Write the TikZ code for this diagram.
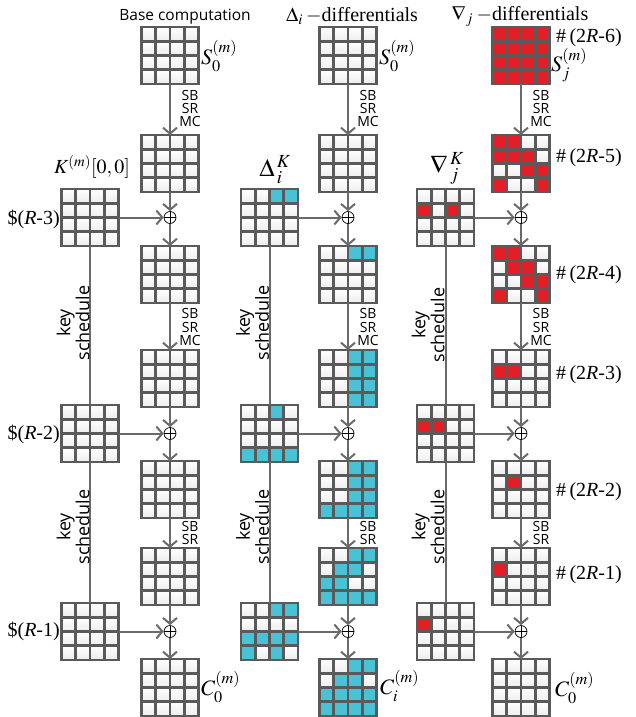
\documentclass[tikz,border=0pt]{standalone}
\usepackage{mathptmx}
\usepackage[no-math]{fontspec}
\setmainfont{Liberation Serif}
\newfontfamily\osans{Open Sans}
\usetikzlibrary{arrows.meta,calc}
\definecolor{gl}{HTML}{5A5A5A}
\definecolor{cn}{HTML}{6A6A6A}
\definecolor{cy}{HTML}{4AC2D6}
\definecolor{rd}{HTML}{E41E26}
\tikzset{
 gridnode/.style={minimum size=57pt, inner sep=0pt, outer sep=0pt},
 conn/.style={draw=cn, line width=2pt, -{Straight Barb[length=6pt,width=14pt,line width=2pt]}},
 plainline/.style={draw=cn, line width=2pt},
 xor/.style={circle, draw=black, fill=white, line width=0.7pt, minimum size=12pt, inner sep=0pt,
   path picture={\draw[black,line width=0.7pt] (path picture bounding box.north) -- (path picture bounding box.south) (path picture bounding box.west) -- (path picture bounding box.east);}},
 oplab/.style={font=\osans\fontsize{14}{13.3}\selectfont, align=center, inner sep=0pt},
 kslab/.style={font=\osans\fontsize{18}{17}\selectfont, align=center, rotate=90, inner sep=0pt},
 mlab/.style={font=\fontsize{20}{22}\selectfont, inner sep=0pt},
 slab/.style={font=\fontsize{22}{24}\selectfont, inner sep=0pt},
 dlab/.style={font=\fontsize{25}{27}\selectfont, inner sep=0pt},
 ttl/.style={font=\osans\fontsize{15.5}{17}\selectfont, inner sep=0pt},
}
\newcommand\grid[3]{%
 \node[gridnode] (#1) at (#2,#3+28.5) {};
 \foreach \r in {0,...,3}{\foreach \c in {0,...,3}{%
   \shade[top color=white,bottom color=gray!14] ($(#1.north west)+(\c*14.25,\r*14.25)$) rectangle +(14.25,14.25);}}
}
\newcommand\cells[3]{%
 \foreach \r/\c in {#3}{\fill[#2] ($(#1.north west)+(\c*14.25,\r*14.25)$) rectangle +(14.25,14.25);}
}
\newcommand\glines[1]{%
 \foreach \i in {1,2,3}{%
   \draw[gl,line width=2.6pt] ($(#1.north west)+(\i*14.25,0)$) -- +(0,57);
   \draw[gl,line width=2.6pt] ($(#1.north west)+(0,\i*14.25)$) -- +(57,0);}
 \draw[gl,line width=2.6pt] (#1.north west) rectangle (#1.south east);
}
\begin{document}
\begin{tikzpicture}[x=1pt,y=-1pt]
\useasboundingbox (0,0) rectangle (635,717);
% ---------- column 1
\grid{a0}{170}{27}\glines{a0}
\grid{a1}{170}{135}\glines{a1}
\grid{a2}{170}{246}\glines{a2}
\grid{a3}{170}{350}\glines{a3}
\grid{a4}{170}{461}\glines{a4}
\grid{a5}{170}{548}\glines{a5}
\grid{a6}{170}{659}\glines{a6}
\grid{ak1}{90}{189}\glines{ak1}
\grid{ak2}{90}{405}\glines{ak2}
\grid{ak3}{90}{603}\glines{ak3}
\node[xor] (ax1) at (170,217.5) {};
\node[xor] (ax2) at (170,433.5) {};
\node[xor] (ax3) at (170,631.5) {};
% ---------- column 2
\grid{b0}{348}{27}\glines{b0}
\grid{b1}{348}{135}\glines{b1}
\grid{b2}{348}{246}\cells{b2}{cy}{0/2,0/3}\glines{b2}
\grid{b3}{348}{350}\cells{b3}{cy}{0/2,0/3,1/2,1/3,2/2,2/3,3/2,3/3}\glines{b3}
\grid{b4}{348}{461}\cells{b4}{cy}{0/2,0/3,1/2,1/3,2/2,2/3,3/0,3/1,3/2,3/3}\glines{b4}
\grid{b5}{348}{548}\cells{b5}{cy}{0/2,0/3,1/1,1/2,2/0,2/1,3/0,3/1,3/2,3/3}\glines{b5}
\grid{b6}{348}{659}\cells{b6}{cy}{0/2,0/3,1/1,1/2,2/0,2/1,2/2,2/3,3/0,3/1,3/2,3/3}\glines{b6}
\grid{bk1}{269.5}{189}\cells{bk1}{cy}{0/2,0/3}\glines{bk1}
\grid{bk2}{269.5}{405}\cells{bk2}{cy}{0/2,3/0,3/1,3/2,3/3}\glines{bk2}
\grid{bk3}{269.5}{603}\cells{bk3}{cy}{0/2,0/3,2/0,2/1,2/2,2/3,3/0,3/2}\glines{bk3}
\node[xor] (bx1) at (348,217.5) {};
\node[xor] (bx2) at (348,433.5) {};
\node[xor] (bx3) at (348,631.5) {};
% ---------- column 3
\grid{c0}{521}{27}\cells{c0}{rd}{0/0,0/1,0/2,0/3,1/0,1/1,1/2,1/3,2/0,2/1,2/2,2/3,3/0,3/1,3/2,3/3}\glines{c0}
\grid{c1}{521}{135}\cells{c1}{rd}{0/0,0/1,1/0,1/1,1/2,2/2,2/3,3/0,3/3}\glines{c1}
\grid{c2}{521}{246}\cells{c2}{rd}{0/0,0/1,1/1,1/2,2/2,2/3,3/0,3/3}\glines{c2}
\grid{c3}{521}{350}\cells{c3}{rd}{1/0,1/1}\glines{c3}
\grid{c4}{521}{461}\cells{c4}{rd}{1/1}\glines{c4}
\grid{c5}{521}{548}\cells{c5}{rd}{1/0}\glines{c5}
\grid{c6}{521}{659}\glines{c6}
\grid{ck1}{445.5}{189}\cells{ck1}{rd}{1/0,1/2}\glines{ck1}
\grid{ck2}{445.5}{405}\cells{ck2}{rd}{1/0,1/1}\glines{ck2}
\grid{ck3}{445.5}{603}\cells{ck3}{rd}{1/0}\glines{ck3}
\node[xor] (cx1) at (521,217.5) {};
\node[xor] (cx2) at (521,433.5) {};
\node[xor] (cx3) at (521,631.5) {};
% ---------- connectors
\foreach \p in {a,b,c}{
 \draw[conn] (\p0) -- (\p1);
 \draw[conn] (\p1) -- (\p x1);
 \draw[conn] (\p k1) -- (\p x1);
 \draw[conn] (\p x1) -- (\p2);
 \draw[conn] (\p2) -- (\p3);
 \draw[conn] (\p3) -- (\p x2);
 \draw[conn] (\p k2) -- (\p x2);
 \draw[conn] (\p x2) -- (\p4);
 \draw[conn] (\p4) -- (\p5);
 \draw[conn] (\p5) -- (\p x3);
 \draw[conn] (\p k3) -- (\p x3);
 \draw[conn] (\p x3) -- (\p6);
 \draw[plainline] (\p k1) -- (\p k2);
 \draw[plainline] (\p k2) -- (\p k3);
}
% ---------- labels column 1
\node[ttl] (t1) at (185,17) {Base computation};
\node[slab,anchor=west] (la0) at (201,56) {$S_0^{(m)}$};
\node[oplab] (o1a) at (190,108.5) {SB\\SR\\MC};
\node[oplab] (o1b) at (190,327) {SB\\SR\\MC};
\node[oplab] (o1c) at (190,533) {SB\\SR};
\node[mlab] (lk1) at (92,167) {$K^{(m)}[0,0]$};
\node[mlab,anchor=east] (r3) at (60,219) {\$(\textit{R}-3)};
\node[mlab,anchor=east] (r2) at (60,434) {\$(\textit{R}-2)};
\node[mlab,anchor=east] (r1) at (60,631) {\$(\textit{R}-1)};
\node[slab,anchor=west] (la6) at (201,687) {$C_0^{(m)}$};
\node[kslab] (ks1a) at (73,323) {key\\schedule};
\node[kslab] (ks1b) at (73,527) {key\\schedule};
% ---------- labels column 2
\node[mlab] (t2) at (352,16) {$\Delta_i$\,$-$differentials};
\node[slab,anchor=west] (lb0) at (379,56) {$S_0^{(m)}$};
\node[oplab] (o2a) at (368,108.5) {SB\\SR\\MC};
\node[oplab] (o2b) at (368,327) {SB\\SR\\MC};
\node[oplab] (o2c) at (368,533) {SB\\SR};
\node[dlab] (lk2) at (275,170) {$\Delta_{\,i}^{\,K}$};
\node[slab,anchor=west] (lb6) at (380,686) {$C_i^{(m)}$};
\node[kslab] (ks2a) at (252.5,323) {key\\schedule};
\node[kslab] (ks2b) at (252.5,527) {key\\schedule};
% ---------- labels column 3
\node[mlab] (t3) at (520,16) {$\nabla_j$\,$-$differentials};
\node[mlab,anchor=west] (h6) at (556,38) {\#\,(2\textit{R}-6)};
\node[slab,anchor=west] (lc0) at (551,65) {$S_j^{(m)}$};
\node[mlab,anchor=west] (h5) at (556,158) {\#\,(2\textit{R}-5)};
\node[mlab,anchor=west] (h4) at (556,275) {\#\,(2\textit{R}-4)};
\node[mlab,anchor=west] (h3) at (556,375) {\#\,(2\textit{R}-3)};
\node[mlab,anchor=west] (h2) at (556,492) {\#\,(2\textit{R}-2)};
\node[mlab,anchor=west] (h1) at (556,575) {\#\,(2\textit{R}-1)};
\node[oplab] (o3a) at (541,108.5) {SB\\SR\\MC};
\node[oplab] (o3b) at (541,327) {SB\\SR\\MC};
\node[oplab] (o3c) at (541,533) {SB\\SR};
\node[dlab] (lk3) at (447,168) {$\nabla_{\,j}^{\,K}$};
\node[slab,anchor=west] (lc6) at (555,688) {$C_0^{(m)}$};
\node[kslab] (ks3a) at (428,325) {key\\schedule};
\node[kslab] (ks3b) at (428,527) {key\\schedule};
\end{tikzpicture}
\end{document}
